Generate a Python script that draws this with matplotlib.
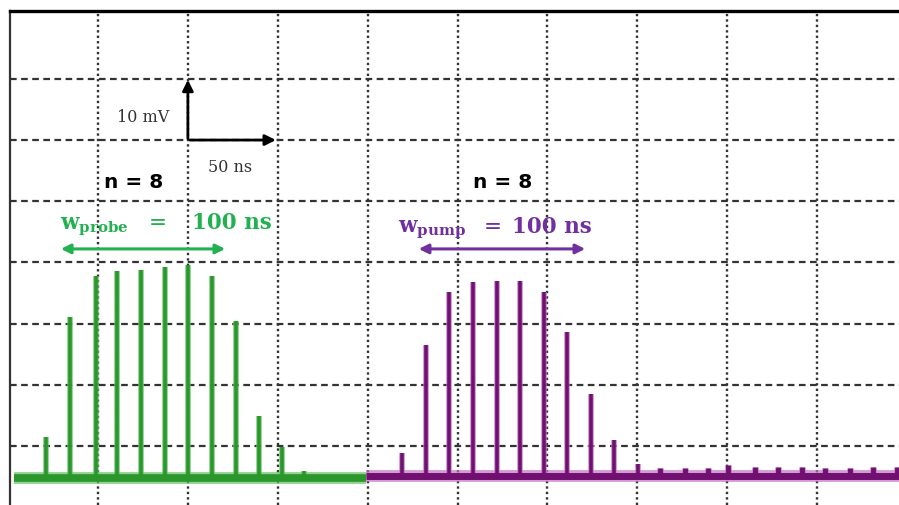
import matplotlib
matplotlib.use("Agg")
import matplotlib.pyplot as plt
import numpy as np

plt.rcParams["mathtext.fontset"] = "custom"
plt.rcParams["mathtext.rm"] = "DejaVu Serif"
plt.rcParams["mathtext.bf"] = "DejaVu Serif:bold"

# probe pulse train (time in ns, peak in mV)
probe_t = [21.1, 34.4, 48.9, 60.6, 73.9, 87.3, 100.1, 113.4, 126.8, 139.6, 152.4, 164.6]
probe_v = [11.4, 31.1, 37.8, 38.6, 38.7, 39.2, 39.6, 37.8, 30.4, 14.9, 9.8, 5.9]
probe_base = 4.7
probe_span = [3.5, 199.1]

# pump pulse train
pump_t = [219.1, 232.5, 245.3, 258.6, 272.0, 284.8, 298.1, 310.9, 324.3, 337.1, 350.5]
pump_v = [8.8, 26.5, 35.1, 36.8, 36.9, 36.9, 35.1, 28.6, 18.5, 11.0, 7.0]
ripple_t = [362.7, 376.6, 389.4, 400.5, 415.5, 428.3, 441.7, 454.5, 468.4, 481.2, 494.5]
ripple_v = [6.3, 6.4, 6.3, 6.8, 6.5, 6.5, 6.6, 6.4, 6.3, 6.6, 6.5]
pump_base = 5.0
pump_span = [199.1, 496.0]

green = "#2b962b"
green_glow = "#62c062"
purple = "#701070"
purple_glow = "#c470c4"
green_txt = "#22b050"
purple_txt = "#7030a0"

fig = plt.figure(figsize=(8.99, 5.06), dpi=100)
ax = fig.add_axes([10 / 899, 0, 889 / 899, 494 / 506])
ax.set_xlim(1.04, 1.04 + 889 / 1.7975)
ax.set_ylim(0.33, 81.1)

# oscilloscope grid
for gx in np.arange(50, 500, 50):
    ax.axvline(gx, color="#333333", lw=1.7, linestyle=(0, (1.0, 1.3)), zorder=1)
for gy in np.arange(10, 80, 10):
    ax.axhline(gy, color="#333333", lw=1.6, linestyle=(0, (3, 2)), zorder=1)

# traces
ax.hlines(probe_base, *probe_span, color=green_glow, lw=8.5, alpha=0.7, zorder=2)
ax.vlines(probe_t, probe_base, probe_v, color=green_glow, lw=4.2, alpha=0.7, zorder=2)
ax.hlines(probe_base, *probe_span, color=green, lw=5.5, zorder=3)
ax.vlines(probe_t, probe_base, probe_v, color=green, lw=2.6, zorder=3)

ax.hlines(pump_base, *pump_span, color=purple_glow, lw=8.5, alpha=0.7, zorder=2)
ax.vlines(pump_t, pump_base, pump_v, color=purple_glow, lw=4.2, alpha=0.7, zorder=2)
ax.vlines(ripple_t, pump_base, ripple_v, color=purple_glow, lw=5, alpha=0.7, zorder=2)
ax.hlines(pump_base, *pump_span, color=purple, lw=5, zorder=3)
ax.vlines(pump_t, pump_base, pump_v, color=purple, lw=2.6, zorder=3)
ax.vlines(ripple_t, pump_base, ripple_v, color=purple, lw=3.5, zorder=3)

# scale bar
ax.annotate("", xy=(100, 70.3), xytext=(100, 59.8),
            arrowprops=dict(arrowstyle="-|>", lw=2, color="black", mutation_scale=16))
ax.annotate("", xy=(150.5, 60), xytext=(99.6, 60),
            arrowprops=dict(arrowstyle="-|>", lw=2, color="black", mutation_scale=16))
ax.text(75, 63.1, "10 mV", family="DejaVu Serif", fontsize=11.5, color="#333333",
        ha="center", va="baseline")
ax.text(123.5, 54.9, "50 ns", family="DejaVu Serif", fontsize=11.5, color="#333333",
        ha="center", va="baseline")

# labels
for cx in [69.8, 275.3]:
    ax.text(cx, 52.3, "n = 8", family="DejaVu Sans", fontweight="bold", fontsize=14.5,
            ha="center", va="baseline", color="black")

ax.text(28.9, 45.6, r"$\mathbf{w}_{\mathbf{probe}}$", fontsize=15.5, color=green_txt,
        va="baseline")
ax.text(83.1, 45.6, "=", family="DejaVu Serif", fontsize=15.5, color=green_txt,
        ha="center", va="baseline")
ax.text(102.3, 45.6, "100 ns", family="DejaVu Serif", fontweight="bold", fontsize=15.5,
        color=green_txt, va="baseline")

ax.text(216.9, 45.0, r"$\mathbf{w}_{\mathbf{pump}}$", fontsize=15.5, color=purple_txt,
        va="baseline")
ax.text(269.8, 45.0, "=", family="DejaVu Serif", fontsize=15.5, color=purple_txt,
        ha="center", va="baseline")
ax.text(280.3, 45.0, "100 ns", family="DejaVu Serif", fontweight="bold", fontsize=15.5,
        color=purple_txt, va="baseline")

ax.annotate("", xy=(27.8, 42.2), xytext=(122.3, 42.2),
            arrowprops=dict(arrowstyle="<|-|>", lw=2.2, color=green_txt, mutation_scale=14))
ax.annotate("", xy=(226.9, 42.2), xytext=(322.6, 42.2),
            arrowprops=dict(arrowstyle="<|-|>", lw=2.2, color=purple_txt, mutation_scale=14))

ax.set_xticks([])
ax.set_yticks([])
ax.spines["right"].set_visible(False)
ax.spines["bottom"].set_visible(False)
ax.spines["top"].set_linewidth(2.4)
ax.spines["top"].set_color("black")
ax.spines["left"].set_linewidth(1.6)
ax.spines["left"].set_color("#333333")

fig.savefig("out.png", dpi=100)
